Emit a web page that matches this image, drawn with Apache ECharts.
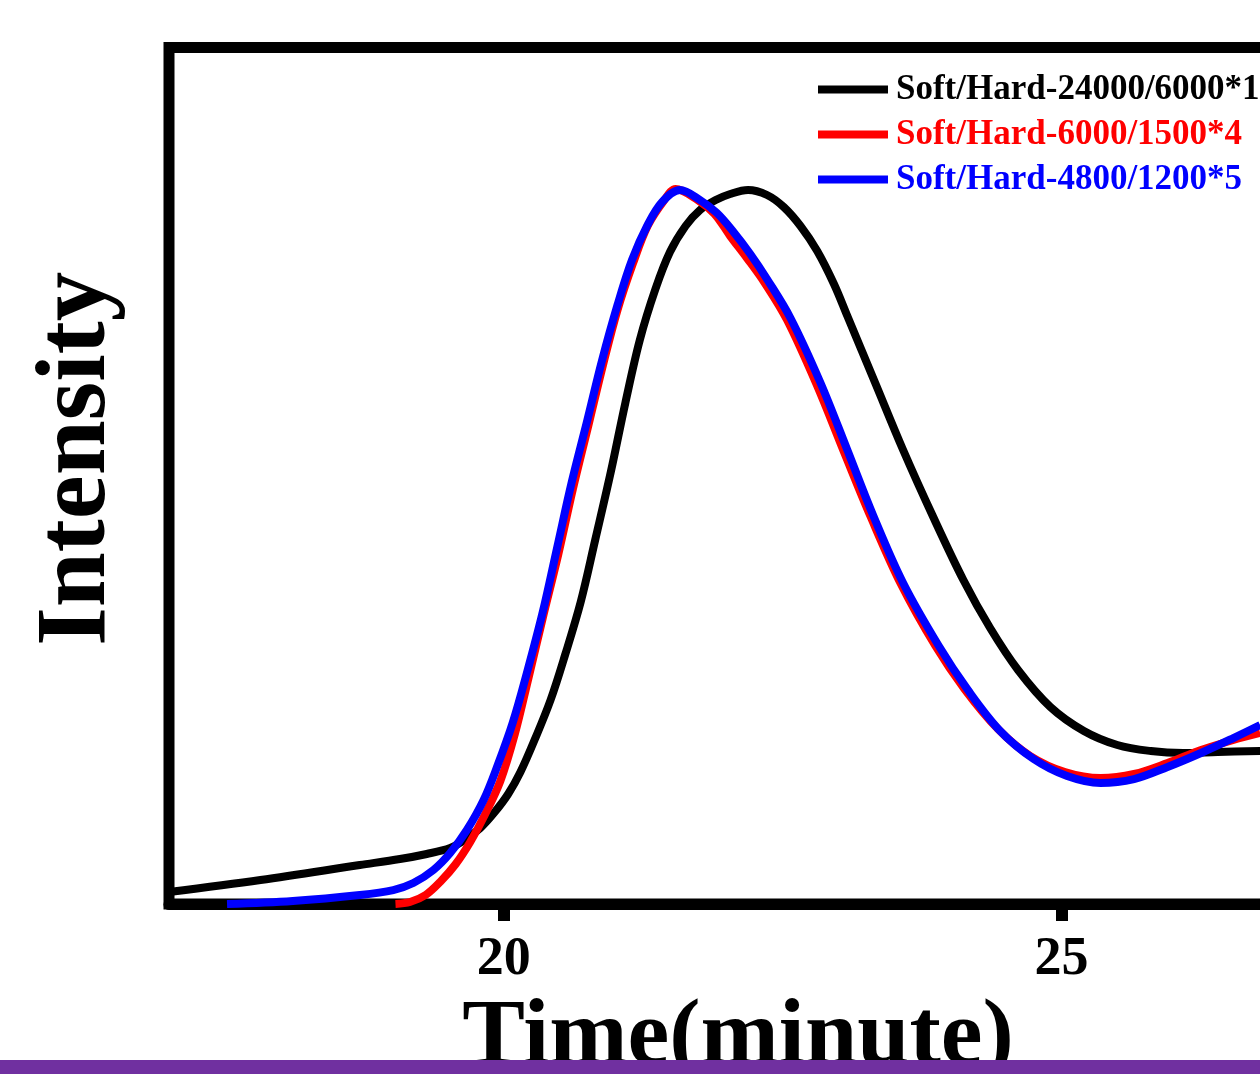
<!DOCTYPE html>
<html>
<head>
<meta charset="utf-8">
<script src="https://cdn.jsdelivr.net/npm/echarts@6/dist/echarts.min.js"></script>
<style>
  html, body { margin: 0; padding: 0; background: #fff; }
  #chart { width: 1260px; height: 1074px; }
</style>
</head>
<body>
<div id="chart"></div>
<script>
// ---- Data ----
const seriesNames = ['Soft/Hard-24000/6000*1', 'Soft/Hard-6000/1500*4', 'Soft/Hard-4800/1200*5'];
const seriesColors = ['#000000', '#ff0000', '#0000ff'];
const xTickValues = [20, 25];

const blackTime = [17.00, 17.82, 18.71, 19.07, 19.31, 19.52, 19.65, 19.79, 19.92, 20.04, 20.15, 20.28, 20.42, 20.55, 20.69, 20.82, 20.96, 21.09, 21.22, 21.36, 21.49, 21.63, 21.76, 21.90, 22.03, 22.19, 22.36, 22.51, 22.66, 22.81, 22.96, 23.08, 23.33, 23.58, 23.85, 24.12, 24.36, 24.61, 24.90, 25.20, 25.50, 25.80, 26.09, 26.40, 26.78];
const blackIntensity = [1.40, 2.80, 4.55, 5.25, 5.84, 6.54, 7.47, 8.87, 10.74, 12.84, 15.41, 19.26, 23.82, 29.07, 35.26, 42.50, 50.44, 58.49, 65.85, 71.80, 76.12, 79.16, 81.03, 82.19, 82.90, 83.36, 82.78, 81.38, 79.16, 76.24, 72.39, 68.65, 60.83, 53.01, 45.18, 37.83, 32.22, 27.32, 23.00, 20.20, 18.56, 17.86, 17.63, 17.75, 17.86];

const redTime = [19.03, 19.16, 19.30, 19.43, 19.57, 19.70, 19.83, 19.97, 20.10, 20.22, 20.35, 20.49, 20.62, 20.76, 20.89, 21.02, 21.16, 21.29, 21.44, 21.54, 21.74, 21.89, 22.03, 22.18, 22.34, 22.54, 22.81, 23.05, 23.29, 23.56, 23.87, 24.13, 24.43, 24.72, 25.03, 25.35, 25.65, 25.95, 26.25, 26.54, 26.78];
const redIntensity = [0.00, 0.23, 1.05, 2.57, 4.67, 7.24, 10.39, 14.36, 19.85, 26.27, 33.39, 40.86, 48.45, 55.93, 62.93, 69.35, 74.84, 79.16, 82.19, 83.48, 82.19, 80.56, 77.99, 75.42, 72.50, 68.18, 60.48, 52.77, 45.18, 37.36, 30.12, 25.10, 20.43, 17.28, 15.41, 14.71, 15.18, 16.46, 17.98, 19.15, 19.97];

const blueTime = [17.52, 18.11, 18.71, 19.01, 19.19, 19.37, 19.52, 19.67, 19.82, 19.94, 20.08, 20.21, 20.35, 20.48, 20.61, 20.75, 20.88, 21.02, 21.15, 21.29, 21.42, 21.58, 21.76, 21.91, 22.06, 22.21, 22.36, 22.57, 22.84, 23.08, 23.31, 23.58, 23.90, 24.16, 24.45, 24.75, 25.05, 25.35, 25.65, 25.95, 26.25, 26.54, 26.78];
const blueIntensity = [0.00, 0.35, 1.05, 1.63, 2.45, 3.97, 5.95, 8.64, 12.14, 16.00, 21.13, 27.09, 34.09, 41.68, 49.27, 56.51, 63.40, 69.94, 75.19, 79.28, 81.96, 83.36, 82.19, 80.68, 78.46, 75.89, 72.97, 68.42, 60.83, 53.01, 45.42, 37.48, 30.12, 24.99, 20.20, 16.93, 14.94, 14.13, 14.59, 16.00, 17.63, 19.38, 20.90];

const xTitle = 'Time(minute)';
const yTitle = 'Intensity';

// ---- Build ----
function zip(a, b) { return a.map((v, i) => [v, b[i]]); }
const allData = [zip(blackTime, blackIntensity), zip(redTime, redIntensity), zip(blueTime, blueIntensity)];

const FONT = "'Liberation Serif', 'Times New Roman', serif";
const chart = echarts.init(document.getElementById('chart'), null, { renderer: 'canvas' });

const option = {
  animation: false,
  backgroundColor: '#ffffff',
  grid: {
    left: 169, top: 47.5, right: -47, bottom: 170,
    show: true, borderWidth: 11, borderColor: '#000', backgroundColor: 'transparent',
    containLabel: false,
    outerBoundsMode: 'none'
  },
  legend: {
    left: 818, top: 72, orient: 'vertical', padding: 0,
    itemWidth: 70, itemHeight: 8, itemGap: 10, icon: 'rect',
    textStyle: { fontFamily: FONT, fontWeight: 'bold', fontSize: 35, lineHeight: 35, padding: [0, 0, 0, 3] },
    data: seriesNames.map((n, i) => ({ name: n, textStyle: { color: seriesColors[i] } }))
  },
  xAxis: {
    type: 'value', min: 17, max: 27.2,
    name: xTitle, nameLocation: 'middle', nameGap: 77,
    nameTextStyle: { fontFamily: FONT, fontWeight: 'bold', fontSize: 94, color: '#000' },
    axisLine: { show: true, onZero: false, lineStyle: { color: '#000', width: 11 } },
    axisTick: { show: true, customValues: xTickValues, length: 17, inside: false, lineStyle: { color: '#000', width: 12 } },
    axisLabel: { show: true, customValues: xTickValues, margin: 29, fontFamily: FONT, fontWeight: 'bold', fontSize: 54, color: '#000' },
    splitLine: { show: false }
  },
  yAxis: {
    type: 'value', min: 0, max: 100,
    name: yTitle, nameLocation: 'middle', nameGap: 41,
    nameTextStyle: { fontFamily: FONT, fontWeight: 'bold', fontSize: 99, color: '#000', padding: [0, 0, 0, 34] },
    axisLine: { show: false }, axisTick: { show: false }, axisLabel: { show: false }, splitLine: { show: false }
  },
  series: allData.map((d, i) => ({
    name: seriesNames[i], type: 'line', data: d, smooth: 0.35, showSymbol: false, symbol: 'none',
    clip: true,
    lineStyle: { color: seriesColors[i], width: 8 }, itemStyle: { color: seriesColors[i] }, z: 3 + i
  })),
  graphic: [{
    type: 'rect', left: 0, top: 1060, z: 100,
    shape: { width: 1260, height: 14 }, style: { fill: '#7030A0' }
  }]
};
chart.setOption(option);
</script>
</body>
</html>
